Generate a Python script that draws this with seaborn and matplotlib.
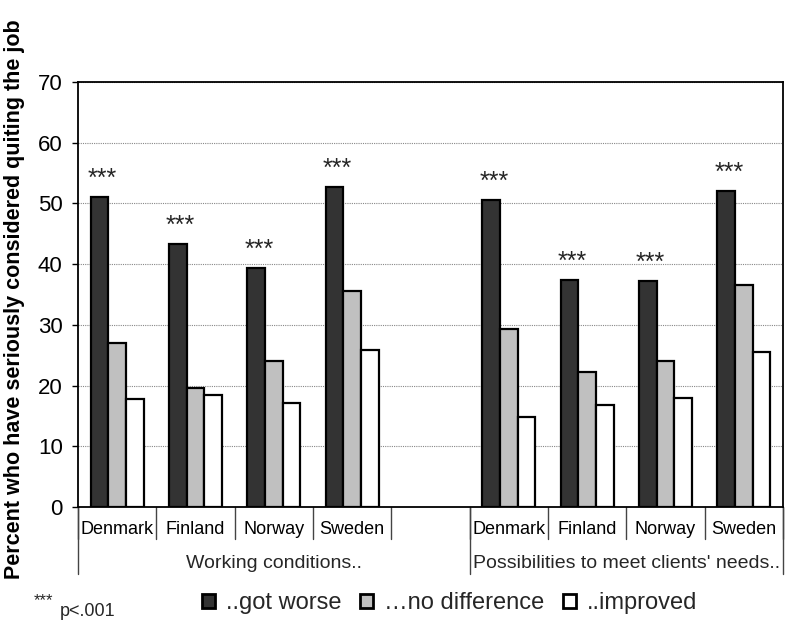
import pandas as pd
import numpy as np
import matplotlib
matplotlib.use("Agg")
import matplotlib.pyplot as plt
import seaborn as sns

# --- Data ---
COUNTRIES = ["Denmark", "Finland", "Norway", "Sweden"]
GROUPS = ["Working conditions..", "Possibilities to meet clients' needs.."]
RESPONSES = ["..got worse", "\u2026no difference", "..improved"]

# working conditions
wc_worse = [51.1, 43.3, 39.4, 52.7]
wc_nodiff = [27.0, 19.6, 24.0, 35.6]
wc_improved = [17.8, 18.4, 17.2, 25.9]

# possibilities to meet clients' needs
pc_worse = [50.5, 37.4, 37.3, 52.1]
pc_nodiff = [29.4, 22.2, 24.0, 36.6]
pc_improved = [14.9, 16.8, 18.0, 25.6]

STARS = "***"
COLORS = ["#333333", "#c0c0c0", "#ffffff"]


def build_frame():
    rows = []
    blocks = [("wc", [wc_worse, wc_nodiff, wc_improved]),
              ("pc", [pc_worse, pc_nodiff, pc_improved])]
    for key, series in blocks:
        for resp, vals in zip(RESPONSES, series):
            for country, v in zip(COUNTRIES, vals):
                rows.append({"slot": f"{key}_{country}", "response": resp, "value": v})
    return pd.DataFrame(rows)


def main():
    sns.set_theme(style="white")
    plt.rcParams["font.family"] = ["Liberation Sans", "DejaVu Sans"]

    df = build_frame()
    order = [f"wc_{c}" for c in COUNTRIES] + ["gap"] + [f"pc_{c}" for c in COUNTRIES]

    fig = plt.figure(figsize=(7.86, 6.27), dpi=100)
    ax = fig.add_axes([78 / 786, 120 / 627, 705 / 786, 425 / 627])

    sns.barplot(data=df, x="slot", y="value", hue="response", order=order,
                hue_order=RESPONSES, palette=COLORS, width=0.68, saturation=1,
                edgecolor="black", linewidth=1.6, errorbar=None, legend=False, ax=ax)

    ax.set_ylim(0, 70)
    ax.set_xlim(-0.5, len(order) - 0.5)
    ax.set_yticks(range(0, 71, 10))
    ax.yaxis.grid(True, color="#888888", linestyle=(0, (1, 1)), linewidth=0.8)
    ax.set_axisbelow(True)
    for sp in ax.spines.values():
        sp.set_visible(True)
        sp.set_color("black")
        sp.set_linewidth(1.3)

    ax.tick_params(axis="y", which="both", left=True, length=4, width=1,
                   color="black", labelsize=16, pad=7, labelcolor="black")
    ax.set_xticks(range(len(order)))
    ax.set_xticklabels([o.split("_")[1] if "_" in o else "" for o in order])
    ax.tick_params(axis="x", length=0, labelsize=13, pad=10, labelcolor="black")
    ax.set_xlabel("")
    ax.set_ylabel("Percent who have seriously considered quiting the job",
                  fontsize=15.5, fontweight="bold", color="black")
    ax.yaxis.set_label_coords(-0.075, 0.49)

    # separators under the category axis
    trans = ax.get_xaxis_transform()
    for b in np.arange(-0.5, len(order), 1.0):
        ax.plot([b, b], [0, -0.076], transform=trans, color="#444444",
                linewidth=1, clip_on=False)
    for b in [-0.5, 4.5, len(order) - 0.5]:
        ax.plot([b, b], [0, -0.157], transform=trans, color="#444444",
                linewidth=1, clip_on=False)
    ax.text(2, -0.132, GROUPS[0], transform=trans, ha="center", va="center", fontsize=14)
    ax.text(6.5, -0.132, GROUPS[1], transform=trans, ha="center", va="center", fontsize=14)

    # significance stars above the "got worse" bars
    for bar in ax.containers[0]:
        ax.annotate(STARS, (bar.get_x() + bar.get_width() / 2, bar.get_height()),
                    xytext=(2, 13), textcoords="offset points",
                    ha="center", va="center", fontsize=18)

    # legend
    handles = [plt.Rectangle((0, 0), 1, 1, facecolor=c, edgecolor="black", linewidth=2)
               for c in COLORS]
    fig.legend(handles, RESPONSES, loc="center", bbox_to_anchor=(0.572, 0.038), ncol=3,
               frameon=False, fontsize=17, handlelength=0.55, handleheight=0.55,
               handletextpad=0.45, columnspacing=0.8)

    fig.text(34 / 786, 1 - 601 / 627, "***", fontsize=12, ha="left", va="center")
    fig.text(60 / 786, 1 - 612 / 627, "p<.001", fontsize=13, ha="left", va="center")

    fig.savefig("out.png", dpi=100)


if __name__ == "__main__":
    main()
